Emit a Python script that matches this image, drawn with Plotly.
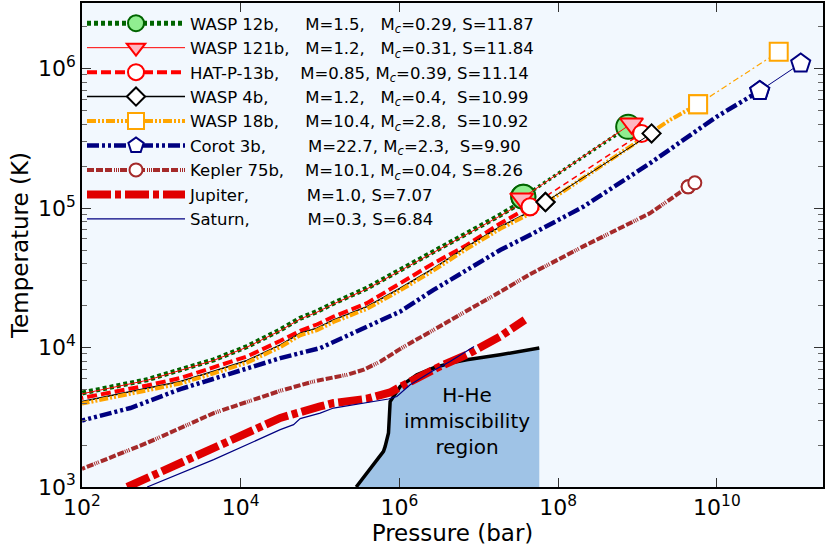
import plotly.graph_objects as go

# ---------------- data (log10 P [bar], log10 T [K]) ----------------
wasp12b_logP = [2.0, 2.82, 3.66, 4.08, 4.50, 4.75, 4.96, 5.17, 5.59, 6.01, 6.43, 6.85, 7.27, 7.48, 7.561]
wasp12b_logT = [3.674, 3.769, 3.912, 4.007, 4.127, 4.210, 4.258, 4.318, 4.425, 4.556, 4.687, 4.819, 4.950, 5.022, 5.081]
wasp12b_core_logP = [7.561, 8.882]
wasp12b_core_logT = [5.081, 5.582]

wasp121b_logP = [2.0, 2.82, 3.66, 4.08, 4.50, 4.75, 4.96, 5.17, 5.59, 6.01, 6.43, 6.85, 7.27, 7.48, 7.541]
wasp121b_logT = [3.668, 3.765, 3.908, 4.003, 4.122, 4.205, 4.253, 4.313, 4.420, 4.551, 4.682, 4.814, 4.944, 5.015, 5.069]
wasp121b_core_logP = [7.541, 8.925]
wasp121b_core_logT = [5.069, 5.606]

hatp13b_logP = [2.0, 2.82, 3.24, 3.66, 4.08, 4.50, 4.75, 4.96, 5.17, 5.59, 6.01, 6.43, 6.85, 7.27, 7.645]
hatp13b_logT = [3.638, 3.728, 3.781, 3.860, 3.936, 4.048, 4.120, 4.165, 4.222, 4.318, 4.461, 4.604, 4.735, 4.890, 5.009]
hatp13b_core_logP = [7.645, 9.051]
hatp13b_core_logT = [5.009, 5.535]

wasp4b_logP = [2.0, 2.82, 3.24, 3.66, 4.08, 4.50, 4.75, 4.96, 5.17, 5.59, 6.01, 6.43, 6.85, 7.27, 7.645, 7.840]
wasp4b_logT = [3.613, 3.708, 3.757, 3.830, 3.907, 4.019, 4.103, 4.139, 4.198, 4.293, 4.425, 4.568, 4.723, 4.866, 4.974, 5.043]
wasp4b_core_logP = [7.840, 9.177]
wasp4b_core_logT = [5.043, 5.535]

wasp18b_logP = [2.0, 2.82, 3.24, 3.66, 4.08, 4.50, 4.75, 4.96, 5.17, 5.59, 6.01, 6.43, 6.85, 7.27, 7.645, 8.30, 9.155, 9.407, 9.763]
wasp18b_logT = [3.598, 3.693, 3.742, 3.815, 3.892, 4.004, 4.088, 4.124, 4.183, 4.278, 4.410, 4.553, 4.708, 4.851, 4.960, 5.205, 5.535, 5.631, 5.744]
wasp18b_core_logP = [9.763, 10.779]
wasp18b_core_logT = [5.744, 6.120]

corot3b_logP = [2.0, 2.61, 3.24, 3.87, 4.50, 5.0, 5.17, 5.59, 6.01, 6.43, 6.85, 7.27, 7.645, 8.316, 9.155, 9.995, 10.54]
corot3b_logT = [3.477, 3.566, 3.702, 3.817, 3.924, 3.996, 4.043, 4.150, 4.258, 4.413, 4.556, 4.699, 4.807, 5.009, 5.320, 5.654, 5.840]
corot3b_core_logP = [10.54, 11.056]
corot3b_core_logT = [5.840, 6.036]

kepler75b_logP = [2.0, 2.82, 3.66, 4.50, 4.92, 5.34, 5.55, 5.76, 6.01, 6.43, 6.85, 7.27, 7.645, 8.316, 9.155, 9.638]
kepler75b_logT = [3.130, 3.316, 3.530, 3.690, 3.757, 3.805, 3.841, 3.900, 3.990, 4.127, 4.265, 4.400, 4.525, 4.725, 4.962, 5.152]
kepler75b_core_logP = [9.638, 9.722]
kepler75b_core_logT = [5.152, 5.181]

jupiter_logP = [2.569, 3.240, 3.659, 4.079, 4.498, 5.001, 5.169, 5.590, 5.883, 6.009, 6.219, 6.508, 6.848, 7.268, 7.58]
jupiter_logT = [3.0, 3.173, 3.291, 3.399, 3.495, 3.578, 3.602, 3.633, 3.678, 3.717, 3.781, 3.864, 3.948, 4.079, 4.198]

saturn_logP = [2.821, 3.659, 4.498, 4.666, 4.749, 5.001, 5.169, 5.590, 5.862, 5.967, 6.135, 6.428, 6.638, 6.940]
saturn_logT = [3.0, 3.196, 3.411, 3.447, 3.490, 3.530, 3.566, 3.606, 3.631, 3.649, 3.733, 3.835, 3.900, 4.007]

hhe_logP = [5.455, 5.799, 5.820, 5.862, 5.883, 5.925, 6.009, 6.219, 6.428, 6.638, 6.848, 7.268, 7.762]
hhe_logT = [3.0, 3.256, 3.291, 3.387, 3.613, 3.649, 3.721, 3.805, 3.853, 3.888, 3.912, 3.948, 3.996]

x_tick_exps = [2, 4, 6, 8, 10]
y_tick_exps = [3, 4, 5, 6]

NB = "\u00a0"
labels = [
    "WASP 12b," + NB * 5 + "M=1.5," + NB * 3 + "M<sub><i>c</i></sub>=0.29, S=11.87",
    "WASP 121b," + NB * 3 + "M=1.2," + NB * 3 + "M<sub><i>c</i></sub>=0.31, S=11.84",
    "HAT-P-13b," + NB * 4 + "M=0.85, M<sub><i>c</i></sub>=0.39, S=11.14",
    "WASP 4b," + NB * 7 + "M=1.2," + NB * 3 + "M<sub><i>c</i></sub>=0.4," + NB * 2 + "S=10.99",
    "WASP 18b," + NB * 5 + "M=10.4, M<sub><i>c</i></sub>=2.8," + NB * 2 + "S=10.92",
    "Corot 3b," + NB * 8 + "M=22.7, M<sub><i>c</i></sub>=2.3," + NB * 2 + "S=9.90",
    "Kepler 75b," + NB * 4 + "M=10.1, M<sub><i>c</i></sub>=0.04, S=8.26",
    "Jupiter," + NB * 11 + "M=1.0, S=7.07",
    "Saturn," + NB * 11 + "M=0.3, S=6.84",
]


def p(v):
    return [10 ** a for a in v]


fig = go.Figure()

# H-He immiscibility region (fill + boundary)
fig.add_trace(go.Scatter(
    x=p(hhe_logP + [hhe_logP[-1]]), y=p(hhe_logT + [hhe_logT[0]]),
    mode="lines", fill="toself", fillcolor="#9fc3e6",
    line=dict(width=0, color="#9fc3e6"), showlegend=False, hoverinfo="skip"))
fig.add_trace(go.Scatter(
    x=p(hhe_logP), y=p(hhe_logT), mode="lines",
    line=dict(color="black", width=3.5), showlegend=False, hoverinfo="skip"))

planets = [
    (wasp12b_logP, wasp12b_logT, wasp12b_core_logP, wasp12b_core_logT, "#006400", 5, "4px,3px", 3.5, "3px,3px", "circle", 24, "#90ee90", "#006400"),
    (wasp121b_logP, wasp121b_logT, wasp121b_core_logP, wasp121b_core_logT, "#ff0000", 1, "solid", 1, "solid", "triangle-down", 20, "#ffb6c1", "#ff0000"),
    (hatp13b_logP, hatp13b_logT, hatp13b_core_logP, hatp13b_core_logT, "#ff0000", 4, "10px,4px", 1.5, "6px,4px", "circle", 17, "white", "#ff0000"),
    (wasp4b_logP, wasp4b_logT, wasp4b_core_logP, wasp4b_core_logT, "black", 1.5, "solid", 1, "solid", "diamond", 14, "white", "black"),
    (wasp18b_logP, wasp18b_logT, wasp18b_core_logP, wasp18b_core_logT, "#ffa500", 4, "9px,2px,2px,2px,2px,2px", 1.2, "6px,3px,2px,3px", "square", 18, "white", "#ffa500"),
    (corot3b_logP, corot3b_logT, corot3b_core_logP, corot3b_core_logT, "#000080", 4.5, "12px,3px,3px,3px,3px,3px", 1, "solid", "pentagon", 20, "white", "#000080"),
    (kepler75b_logP, kepler75b_logT, kepler75b_core_logP, kepler75b_core_logT, "#a52a2a", 4, "7px,2px,7px,2px,7px,2px,1px,1px,1px,1px,1px,1px", 1.5, "solid", "circle", 13, "white", "#a52a2a"),
]

CLEAR = "rgba(0,0,0,0)"
for i, (lp, lt, cp, ct, col, w, dash, cw, cdash, sym, ms, fillc, edge) in enumerate(planets):
    n = len(lp)
    # envelope drawn from the core boundary outward, marker shown only at the boundary point
    fig.add_trace(go.Scatter(
        x=p(lp[::-1]), y=p(lt[::-1]), mode="lines+markers", name=labels[i],
        legendgroup=f"g{i}", legendrank=i + 1,
        line=dict(color=col, width=w, dash=dash),
        marker=dict(symbol=sym, size=ms, color=[fillc] + [CLEAR] * (n - 1),
                    line=dict(color=[edge] + [CLEAR] * (n - 1), width=2)),
        hoverinfo="skip"))

for i, (lp, lt, cp, ct, col, w, dash, cw, cdash, sym, ms, fillc, edge) in enumerate(planets):
    fig.add_trace(go.Scatter(
        x=p(cp), y=p(ct), mode="lines+markers", legendgroup=f"g{i}", showlegend=False,
        line=dict(color=col, width=cw, dash=cdash),
        marker=dict(symbol=sym, size=ms, color=fillc, line=dict(color=edge, width=2)),
        hoverinfo="skip"))

fig.add_trace(go.Scatter(
    x=p(jupiter_logP), y=p(jupiter_logT), mode="lines", name=labels[7], legendgroup="g7", legendrank=8,
    line=dict(color="#e00000", width=8, dash="24px,4px,6px,4px"), hoverinfo="skip"))
fig.add_trace(go.Scatter(
    x=p(saturn_logP), y=p(saturn_logT), mode="lines", name=labels[8], legendgroup="g8", legendrank=9,
    line=dict(color="#000080", width=1.2), hoverinfo="skip"))

FONT = "DejaVu Sans"
fig.add_annotation(x=6.848, y=3.473, xref="x", yref="y", text="H-He<br>immiscibility<br>region",
                   showarrow=False, font=dict(family=FONT, size=20, color="black"))

y_minor = [m * 10 ** e for e in range(3, 7) for m in range(2, 10)]

fig.update_layout(
    width=828, height=549,
    margin=dict(l=82, r=5, t=3, b=62, autoexpand=False),
    paper_bgcolor="white", plot_bgcolor="#f2f8fe",
    font=dict(family=FONT, color="black"),
    showlegend=True,
    legend=dict(x=0.0, y=0.9938, xanchor="left", yanchor="top", bgcolor="rgba(0,0,0,0)",
                font=dict(family=FONT, size=16.5, color="black"), tracegroupgap=0.6,
                itemwidth=98, traceorder="normal"),
    xaxis=dict(type="log", range=[2, 11.337], showgrid=False, zeroline=False, automargin=False,
               tickvals=[10 ** e for e in x_tick_exps],
               ticktext=[f"10<sup>{e}</sup>" for e in x_tick_exps],
               ticks="inside", ticklen=9, tickwidth=1, tickcolor="#333",
               showline=True, linecolor="black", linewidth=1.5, mirror="allticks",
               tickfont=dict(family=FONT, size=22, color="black"),
               title=dict(text="Pressure (bar)", font=dict(family=FONT, size=23), standoff=4)),
    yaxis=dict(type="log", range=[3, 6.47], showgrid=False, zeroline=False, automargin=False,
               tickvals=[10 ** e for e in y_tick_exps],
               ticktext=[f"10<sup>{e}</sup>" for e in y_tick_exps],
               ticks="inside", ticklen=9, tickwidth=1, tickcolor="#333",
               minor=dict(tickvals=y_minor, ticks="inside", ticklen=5, tickwidth=1, tickcolor="#666", showgrid=False),
               showline=True, linecolor="black", linewidth=1.5, mirror="allticks",
               tickfont=dict(family=FONT, size=22, color="black"),
               title=dict(text="Temperature (K)", font=dict(family=FONT, size=23), standoff=3)),
)

fig.write_html("out.html", config={"displayModeBar": False},
               post_script="document.body.style.margin='0';document.body.style.overflow='hidden';")
